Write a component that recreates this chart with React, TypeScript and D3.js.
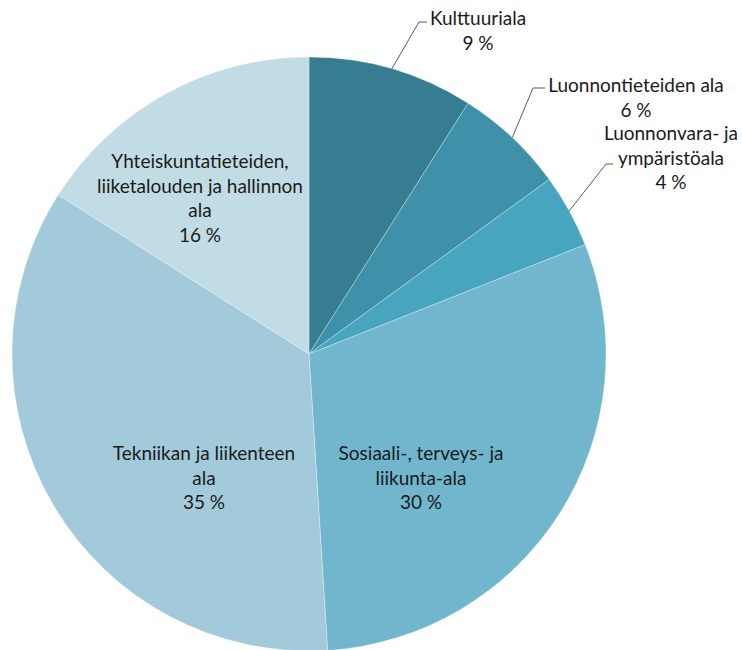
import React, { useEffect } from "react";
import * as d3 from "d3";

// slice data, clockwise from 12 o'clock
const categories = [
  "Kulttuuriala",
  "Luonnontieteiden ala",
  "Luonnonvara- ja ympäristöala",
  "Sosiaali-, terveys- ja liikunta-ala",
  "Tekniikan ja liikenteen ala",
  "Yhteiskuntatieteiden, liiketalouden ja hallinnon ala",
];
const shares = [9, 6, 4, 30, 35, 16];
const sliceColors = ["#367D92", "#3F90A9", "#47A5BF", "#72B6CE", "#A3CADB", "#C2DCE5"];

// how each label breaks into lines (last line is the percent)
const labelLines = [
  ["Kulttuuriala"],
  ["Luonnontieteiden ala"],
  ["Luonnonvara- ja", "ympäristöala"],
  ["Sosiaali-, terveys- ja", "liikunta-ala"],
  ["Tekniikan ja liikenteen", "ala"],
  ["Yhteiskuntatieteiden,", "liiketalouden ja hallinnon", "ala"],
];

const W = 742;
const H = 650;
const cx = 309;
const cy = 354;
const R = 297;
const lineH = 24.5;

// label placement: x = text centre, y = first baseline, leader = [elbow, end] or null
const labelLayout = [
  { x: 478, y: 25, leader: [[419, 22], [427, 22]] },
  { x: 636, y: 92, leader: [[533, 88], [545, 88]] },
  { x: 671, y: 140, leader: [[606, 164], [613, 164]] },
  { x: 421, y: 460, leader: null },
  { x: 204, y: 460, leader: null },
  { x: 200, y: 168, leader: null },
];

const App = () => {
  useEffect(() => {
    document.body.style.margin = "0";
  }, []);

  const pie = d3
    .pie<number>()
    .value((d) => d)
    .sort(null);
  const arcs = pie(shares);
  const arc = d3.arc<d3.PieArcDatum<number>>().innerRadius(0).outerRadius(R);

  const fontFamily = "Lato, 'Open Sans', sans-serif";

  return (
    <svg width={W} height={H} style={{ display: "block" }}>
      <g transform={`translate(${cx},${cy})`}>
        {arcs.map((a, i) => (
          <path
            key={categories[i]}
            d={arc(a) || ""}
            fill={sliceColors[i]}
            stroke="#ffffff"
            strokeOpacity={0.5}
            strokeWidth={0.6}
          />
        ))}
      </g>
      {arcs.map((a, i) => {
        const lay = labelLayout[i];
        if (!lay.leader) return null;
        const mid = (a.startAngle + a.endAngle) / 2;
        const sx = cx + R * Math.sin(mid);
        const sy = cy - R * Math.cos(mid);
        const pts = [[sx, sy], ...lay.leader];
        return (
          <polyline
            key={`lead-${i}`}
            points={pts.map((p) => p.join(",")).join(" ")}
            fill="none"
            stroke="#595959"
            strokeWidth={1}
          />
        );
      })}
      {labelLayout.map((lay, i) => {
        const lines = [...labelLines[i], `${shares[i]} %`];
        return (
          <text
            key={`lab-${i}`}
            x={lay.x}
            y={lay.y}
            textAnchor="middle"
            fontFamily={fontFamily}
            fontSize={19}
            fill="#1a1a1a"
          >
            {lines.map((t, j) => (
              <tspan key={j} x={lay.x} y={lay.y + j * lineH}>
                {t}
              </tspan>
            ))}
          </text>
        );
      })}
    </svg>
  );
};

export default App;
